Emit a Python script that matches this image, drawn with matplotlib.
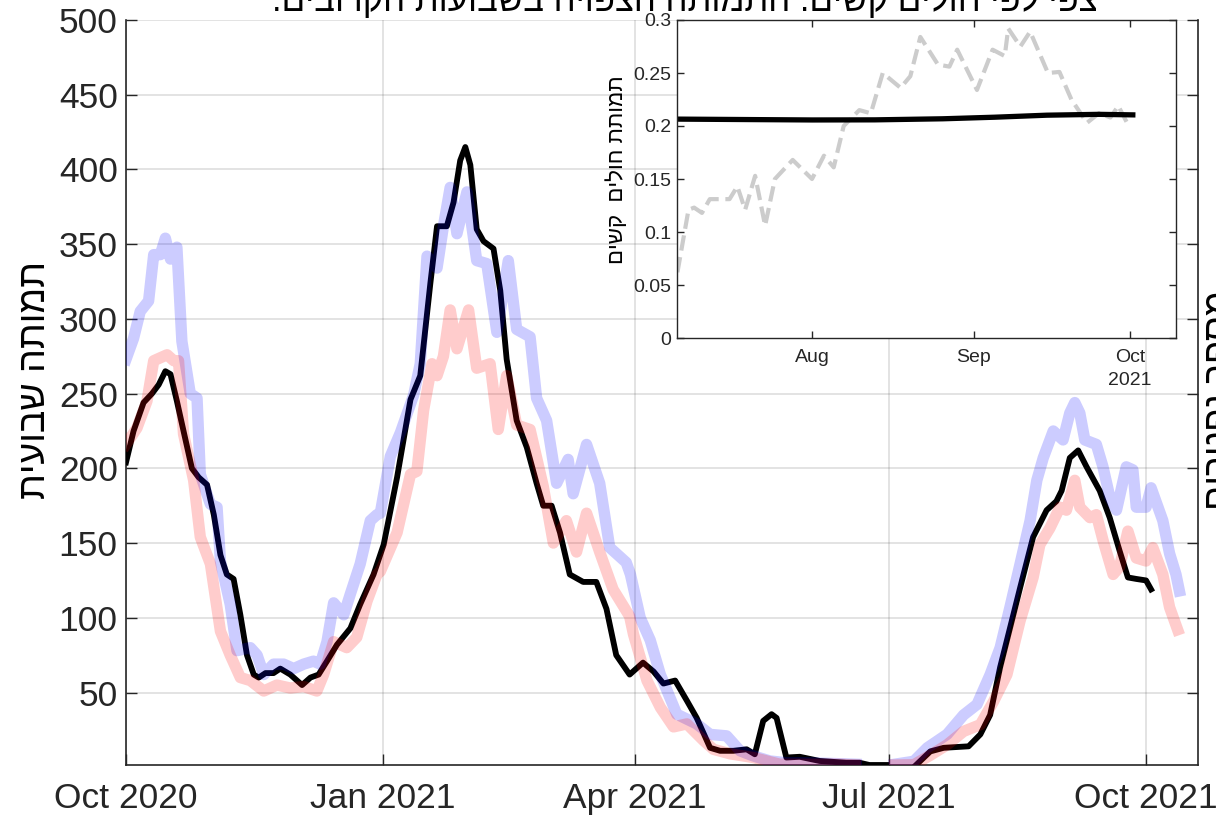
import matplotlib
matplotlib.use('Agg')
import matplotlib.pyplot as plt
import matplotlib.transforms as mtransforms
import numpy as np

# main chart: days counted from 1 Oct 2020
start_main = '2020-10-01'

blue_day = [0, 2.7, 5.1, 8.1, 9.9, 12.3, 14.1, 15.9, 18.2, 20.0, 23.0, 25.4, 26.6, 30.2, 32.6, 33.8,
            37.3, 39.7, 44.5, 46.9, 49.3, 52.8, 56.4, 60, 63.6, 67.1, 69.5, 71.9, 74.3, 77.9, 80.3,
            83.8, 87.4, 89.8, 91, 94.6, 98.2, 102.9, 105.3, 107.7, 111.3, 113.6, 116, 118.4, 122,
            125.5, 129.1, 132.7, 136.8, 139.8, 144.6, 146.9, 150.5, 154.1, 158.2, 160, 164.8, 169.5,
            173.1, 179, 180.5, 184, 187.6, 191.2, 197.1, 204.2, 209, 214.9, 219.7, 224.4, 230.4,
            236.3, 243.5, 253, 261.3, 268, 275, 281.9, 286.7, 293.8, 299.7, 304.5, 309.2, 312.8,
            316.3, 319.9, 323.5, 325.9, 328.2, 331.8, 335.3, 337.7, 339.5, 341.3, 343.1, 347.2,
            349.6, 352, 354.4, 357.9, 360.3, 361.5, 365, 366.8, 371, 373.4, 375.7, 376.9]
blue_val = [273, 287, 305, 312, 343, 343, 354, 340, 348, 285, 250, 247, 196, 176, 174, 138,
            109, 78, 80, 75, 62, 69, 69, 66, 69, 71, 69, 84, 110, 102, 116,
            136, 165, 169, 170, 208, 224, 249, 270, 342, 334, 362, 388, 357, 385,
            339, 337, 291, 339, 293, 288, 247, 232, 190, 206, 183, 216, 190,
            147, 137, 129, 100, 85, 62, 35.5, 29, 22, 21, 11, 7.6, 4.2,
            3, 3, 2.5, 2, np.nan, 2, 4, 13, 22, 35, 42, 62, 80,
            107, 136, 165, 192, 207, 225, 219, 237, 244, 237, 219, 216,
            201, 181, 172, 201, 199, 174, 174, 187, 165, 143, 129, 118]

red_day = [0, 3.9, 7.5, 9.9, 12.3, 14.7, 17.1, 18.8, 20.6, 24.2, 26.6, 30.2, 33.8, 37.3, 40.9,
           44.5, 49.3, 54, 58.8, 63.6, 68.3, 70.7, 74.3, 79, 82.6, 86.2, 89.8, 91, 97, 101.8,
           104.1, 106.5, 109.5, 111.3, 113.6, 116, 118.4, 122.6, 125.5, 130.3, 133.2, 136.2, 139.8,
           144.6, 149.3, 152.9, 157.6, 161.2, 164.8, 169.5, 174.3, 180.2, 181.6, 186.4, 191.2,
           195.9, 200.7, 206.6, 210.2, 216.1, 224.4, 234, 245, 255, 261, 268, 275, 281.9, 287.8,
           293.8, 299.7, 305.7, 310.4, 315.2, 319.9, 324.6, 327, 330.6, 334.2, 336.5, 339.5, 341.3,
           344.9, 347.2, 349.6, 353.2, 355.5, 358.5, 361.5, 365, 367.4, 371, 373.4, 376.3]
red_val = [216, 227, 245, 272, 274, 276, 272, 272, 223, 192, 154, 136, 91, 75, 60,
           58, 51, 55, 53, 54, 51, 62, 84, 80, 87, 111, 129, 131, 157, 196,
           198, 239, 270, 262, 275, 306, 280, 306, 267, 270, 226, 262, 229,
           226, 188, 150, 165, 144, 170, 144, 119, 101, 89, 58, 40,
           27, 29, 18, 12, 9, 6.5, 2, 2, 2, 1.5, np.nan, 1.5, 1.7, 8,
           15, 24, 28.5, 44, 62, 98, 127, 149, 160, 174, 172, 192, 174,
           167, 169, 152, 129, 134, 158, 140, 138, 147, 129, 107, 92]

black_day = [0, 2.7, 6.3, 9.3, 11.7, 14.1, 15.9, 18.2, 20.6, 23.6, 26, 29, 31.4, 33.8, 36.1, 38.5,
             40.9, 43.3, 45.7, 47.5, 49.9, 52.8, 55.2, 58.8, 63, 66, 68.9, 71.9, 75.5, 80.3, 83.8,
             88.6, 92.2, 97, 101.8, 105.3, 108.9, 111.3, 114.8, 117.2, 119.6, 121.4, 123.2, 125.5,
             127.9, 131.5, 133.9, 136.2, 139.8, 143.4, 146.9, 149.3, 152.3, 155.3, 158.8, 163.6,
             168.3, 171.9, 175.4, 180.2, 185, 188.8, 192.3, 196.5, 200.7, 204.2, 209, 212.6, 217.3,
             222.1, 225, 228, 231, 232.8, 236.3, 241.1, 248.2, 257.7, 262.5, 266, 272, 277, 282.7,
             287.8, 292.6, 301.5, 305.7, 309.2, 312.8, 316.3, 319.9, 324.6, 329.4, 332.9, 334.8,
             337.7, 340.7, 343.7, 348.4, 352, 355.5, 358.5, 361.5, 365, 366.8]
black_val = [204, 225, 244, 250, 256, 265, 263, 245, 225, 200, 194, 189, 169, 142, 129, 126,
             102, 75, 62, 60, 63, 63, 66, 62, 55, 60, 62, 71, 82, 93, 109,
             129, 149, 194, 246, 262, 324, 362, 362, 378, 406, 415, 403, 360,
             352, 347, 319, 273, 232, 214, 190, 175, 175, 157, 129, 124,
             124, 106, 75, 62, 70, 64, 56, 58, 44.5, 33, 13, 11, 11,
             12, 8.7, 31, 35.5, 33, 6.5, 7, 4.2, 3, 3, 1.5, 1.5, np.nan, 1.5,
             10.6, 13, 14, 22, 35, 67, 93, 120, 154, 172, 178, 185,
             207, 212, 201, 185, 167, 145, 127, 126, 125, 119]

# inset: days counted from 1 Aug 2021
start_inset = '2021-08-01'
gray_day = [-25.9, -23.8, -22.7, -21.2, -19.7, -15.9, -14.4, -12.9, -11.0, -9.1, -7.2, -3.8, -0.1,
            2.2, 4.1, 6.0, 9.0, 11.2, 13.5, 16.9, 18.8, 20.7, 24.1, 26.3, 27.8, 31.6, 34.6, 36.9,
            37.6, 39.9, 41.8, 45.2, 47.4, 49.7, 52.7, 55.0, 57.2, 58.7, 60.3]
gray_val = [0.062, 0.121, 0.123, 0.118, 0.131, 0.131, 0.143, 0.121, 0.153, 0.106, 0.150, 0.168, 0.150,
            0.172, 0.161, 0.200, 0.215, 0.212, 0.250, 0.236, 0.247, 0.284, 0.258, 0.256, 0.272, 0.234,
            0.272, 0.266, 0.292, 0.275, 0.289, 0.250, 0.251, 0.225, 0.203, 0.212, 0.208, 0.219, 0.204]
inset_black_day = [-26, -10, 0, 12, 25, 35, 45, 55, 61.5]
inset_black_val = [0.2065, 0.206, 0.2057, 0.2058, 0.2068, 0.2083, 0.2102, 0.211, 0.2105]

main_ticks = ['2020-10-01', '2021-01-01', '2021-04-01', '2021-07-01', '2021-10-01']
main_labels = ['Oct 2020', 'Jan 2021', 'Apr 2021', 'Jul 2021', 'Oct 2021']
main_yticks = [50, 100, 150, 200, 250, 300, 350, 400, 450, 500]
inset_ticks = ['2021-08-01', '2021-09-01', '2021-10-01']
inset_labels = ['Aug', 'Sep', 'Oct']
inset_yticks = [0, 0.05, 0.1, 0.15, 0.2, 0.25, 0.3]
inset_ylabels = ['0', '0.05', '0.1', '0.15', '0.2', '0.25', '0.3']

title = 'צפי לפי חולים קשים: התמותה הצפויה בשבועות הקרובים.'
ylabel_left = 'תמותה שבועית'
ylabel_right = 'מספר נפטרים'
ylabel_inset = 'תמותת חולים  קשים'

plt.rcParams['font.family'] = ['Liberation Sans', 'DejaVu Sans']
axcol = '#262626'


def heb(s):
    # matplotlib has no bidi support, so write hebrew in visual order
    return s[::-1]


def to_dates(base, days):
    return np.datetime64(base) + np.round(np.asarray(days) * 24).astype('timedelta64[h]')


W, H = 1216, 822
fig = plt.figure(figsize=(W / 100, H / 100), dpi=100)

ax = fig.add_axes([126 / W, 1 - 765 / H, (1198 - 126) / W, (765 - 20) / H])
ax.plot(to_dates(start_main, black_day), black_val, color='k', lw=4.2, zorder=3)
ax.plot(to_dates(start_main, blue_day), blue_val, color='blue', alpha=0.2, lw=8.2, zorder=4)
ax.plot(to_dates(start_main, red_day), red_val, color='red', alpha=0.2, lw=8.2, zorder=5)

ax.set_xlim(np.datetime64('2020-10-01'), np.datetime64('2021-10-19T14'))
ax.set_ylim(1.5, 500)
ax.set_xticks([np.datetime64(d) for d in main_ticks])
ax.set_xticklabels(main_labels)
ax.set_yticks(main_yticks)
ax.grid(True, color=(0.15, 0.15, 0.15), alpha=0.15, lw=1.2)
ax.set_axisbelow(True)
ax.spines['top'].set_visible(False)
ax.spines['right'].set_visible(False)
for s in ['left', 'bottom']:
    ax.spines[s].set_color(axcol)
    ax.spines[s].set_linewidth(1.2)
ax.tick_params(axis='both', direction='in', length=8, width=1, colors=axcol, labelsize=25.5)
ax.tick_params(axis='y', pad=6)
ax.tick_params(axis='x', pad=12)

ax2 = ax.twinx()
ax2.set_ylim(1.5, 500)
ax2.set_yticks(main_yticks)
ax2.set_yticklabels([])
for s in ['left', 'bottom', 'top']:
    ax2.spines[s].set_visible(False)
ax2.spines['right'].set_color(axcol)
ax2.spines['right'].set_linewidth(1.2)
ax2.tick_params(axis='y', direction='in', length=8, width=1, colors=axcol)

fig.text(685 / W, 1 - 11 / H, heb(title), ha='center', va='baseline', fontsize=25, color='k')
fig.text(35 / W, 1 - 380 / H, heb(ylabel_left), rotation=90, ha='center', va='center',
         fontsize=27, color='k')
fig.text(1202 / W, 1 - 400 / H, heb(ylabel_right), rotation=90, ha='left', va='center',
         fontsize=27, color='k')

# inset
axi = fig.add_axes([677 / W, 1 - 338 / H, (1176 - 677) / W, (338 - 20) / H])
axi.set_facecolor('white')
axi.plot(to_dates(start_inset, gray_day), gray_val, color=(0.8, 0.8, 0.8), lw=3, ls='--')
axi.plot(to_dates(start_inset, inset_black_day), inset_black_val, color='k', lw=3.8)
axi.set_xlim(to_dates(start_inset, [-26])[0], to_dates(start_inset, [69.8])[0])
axi.set_ylim(0, 0.3)
axi.set_xticks([np.datetime64(d) for d in inset_ticks])
axi.set_xticklabels(inset_labels)
axi.set_yticks(inset_yticks)
axi.set_yticklabels(inset_ylabels)
for s in axi.spines.values():
    s.set_color(axcol)
    s.set_linewidth(1)
axi.tick_params(axis='both', direction='in', length=5, width=1, colors=axcol, labelsize=14,
                top=True, right=True)
axi.tick_params(axis='x', pad=8)
axi.tick_params(axis='y', pad=4)
trans = mtransforms.blended_transform_factory(axi.transData, axi.transAxes)
axi.text(np.datetime64('2021-10-01'), -0.135, '2021', transform=trans, ha='center', va='center',
         fontsize=14, color=axcol)
fig.text(617 / W, 1 - 170 / H, heb(ylabel_inset), rotation=90, ha='center', va='center',
         fontsize=16, color='k')

fig.savefig('out.png', dpi=100)
